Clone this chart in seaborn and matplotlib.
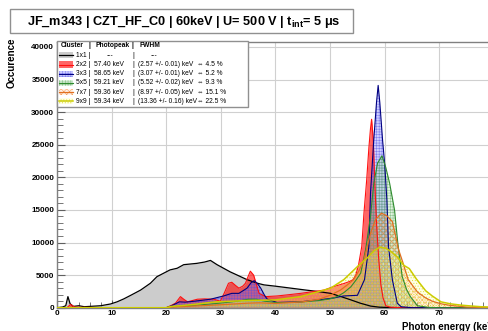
import numpy as np
import pandas as pd
import seaborn as sns
import matplotlib.pyplot as plt
from matplotlib.patches import Rectangle
from matplotlib.lines import Line2D
from matplotlib.ticker import MultipleLocator

plt.rcParams.update({'font.size': 6, 'hatch.linewidth': 0.4,
                     'mathtext.fontset': 'custom',
                     'mathtext.rm': 'Liberation Sans',
                     'mathtext.bf': 'Liberation Sans:bold'})
plt.rcParams['font.family'] = ['Liberation Sans', 'DejaVu Sans']

# spectra (energy in keV, counts)
e_1x1 = [0, 1.0, 1.6, 2.0, 2.4, 3.0, 4.0, 5.0, 6.0, 8.0, 9.8, 11.0, 12.2, 13.5, 15.3, 17.1, 18.3,
         20.7, 22.0, 23.2, 25.6, 27.0, 28.1, 29.3, 31.7, 33.0, 34.8, 36.7, 37.9, 40.0, 42.8, 45.6,
         47.6, 50.1, 52.0, 53.8, 55.5, 57.4, 59.0, 61.0, 65.0, 80.0]
c_1x1 = [0, 100, 300, 1700, 600, 200, 300, 150, 200, 300, 570, 900, 1340, 1900, 2700, 3750, 4760,
         5800, 6050, 6600, 6800, 7000, 7250, 6600, 5500, 5000, 4300, 3750, 3500, 3300, 3000, 2700,
         2500, 2200, 1700, 1200, 700, 250, 80, 20, 0, 0]

e_2x2 = [0, 1.8, 2.5, 3.2, 4.5, 10.0, 20.0, 20.8, 21.7, 22.6, 23.2, 23.9, 24.8, 25.7, 27.0, 28.7,
         29.9, 30.6, 31.4, 32.0, 32.7, 33.3, 34.0, 34.5, 35.0, 35.4, 36.0, 36.5, 37.0, 38.2, 40.3,
         42.5, 44.6, 46.7, 48.9, 50.5, 52.5, 53.5, 54.2, 54.7, 55.2, 55.8, 56.2, 56.7, 57.1, 57.4,
         57.6, 57.9, 58.2, 58.5, 58.9, 59.3, 59.7, 60.2, 61.0, 63.0, 80.0]
c_2x2 = [0, 0, 500, 100, 50, 0, 0, 300, 700, 1700, 1300, 900, 1100, 1300, 1350, 1300,
         1000, 2200, 3750, 3900, 3400, 3000, 3300, 3750, 4800, 5600, 5000, 3600, 2200, 1700, 1800,
         2000, 2200, 2450, 2700, 3200, 3700, 4000, 4300, 5000, 6500, 9400, 14500, 19600, 24500, 27500,
         28900, 25800, 19000, 13000, 7500, 3500, 1500, 300, 80, 0, 0]

e_3x3 = [0, 20.0, 21.0, 22.4, 23.5, 25.2, 28.1, 30.5, 32.0, 33.3, 34.8, 35.5, 36.1, 36.7, 37.3,
         38.0, 38.5, 40.3, 42.5, 44.6, 46.7, 48.9, 50.7, 52.5, 55.0, 56.3, 57.1, 57.4, 58.0, 58.5,
         58.8, 59.1, 59.6, 60.0, 60.4, 60.7, 61.4, 62.3, 63.0, 65.0, 80.0]
c_3x3 = [0, 0, 300, 900, 850, 1000, 1300, 1800, 2200, 2200, 3000, 3800, 4150, 3700, 3000,
         1900, 1300, 800, 850, 900, 1100, 1300, 1500, 1800, 1900, 4300, 9400, 17600, 25800, 31500,
         34100, 31500, 25800, 22000, 16500, 9400, 4300, 700, 150, 0, 0]

e_5x5 = [0, 20.0, 21.0, 25.0, 28.0, 31.0, 33.0, 35.0, 36.5, 38.0, 40.0, 42.0, 45.0, 48.0, 50.0,
         51.3, 52.5, 53.8, 54.8, 55.6, 56.5, 57.4, 58.0, 58.7, 59.5, 60.2, 60.9, 61.8, 62.4, 63.2,
         64.0, 64.7, 66.0, 68.0, 70.0, 80.0]
c_5x5 = [0, 0, 150, 350, 550, 800, 1000, 1300, 1300, 1000, 800, 800, 900, 1100, 1350,
         1700, 2300, 3200, 4300, 5300, 8900, 14000, 19100, 22200, 23300, 21500, 19100, 15000, 9900, 4800,
         2800, 1700, 300, 50, 0, 0]

e_7x7 = [0, 20.0, 21.0, 25.0, 30.0, 35.0, 37.0, 40.0, 45.0, 48.0, 50.0, 51.9, 53.0, 54.3, 55.3,
         56.2, 56.8, 57.4, 58.3, 59.4, 60.4, 61.4, 62.0, 62.5, 63.3, 64.3, 66.0, 67.5, 68.7, 70.3,
         72.0, 75.0, 78.0, 80.0]
c_7x7 = [0, 0, 100, 250, 450, 700, 750, 650, 900, 1300, 1900, 2700, 3400, 4300, 5700,
         7300, 9400, 11400, 13500, 14500, 14100, 13200, 11000, 9000, 7000, 4300, 2400, 1500, 1000, 600,
         350, 100, 30, 0]

e_9x9 = [0, 20.0, 21.0, 25.0, 29.0, 35.0, 40.0, 44.6, 47.6, 48.9, 50.1, 52.5, 55.0, 57.0, 58.0,
         59.1, 60.2, 61.2, 62.3, 63.5, 64.5, 65.8, 67.5, 68.7, 70.3, 72.0, 73.9, 76.0, 77.6, 80.0]
c_9x9 = [0, 0, 200, 500, 900, 1100, 1200, 1700, 2400, 2700, 3000, 4300, 6300, 7800, 8700,
         9300, 9100, 8600, 7800, 6500, 6000, 4400, 2600, 1800, 900, 600, 400, 250, 150, 80]

clusters = ['1x1', '2x2', '3x3', '5x5', '7x7', '9x9']
photopeaks = ['---', '57.40 keV', '58.65 keV', '59.21 keV', '59.36 keV', '59.34 keV']
fwhm = ['---', '(2.57 +/- 0.01) keV', '(3.07 +/- 0.01) keV', '(5.52 +/- 0.02) keV',
        '(8.97 +/- 0.05) keV', '(13.36 +/- 0.16) keV']
ratios = ['', '\u21d4 4.5 %', '\u21d4 5.2 %', '\u21d4 9.3 %', '\u21d4 15.1 %', '\u21d4 22.5 %']

title = 'JF_m343 | CZT_HF_C0 | 60keV | U= 500 V | t$_{\\mathbf{int}}$= 5 \u03bcs'

series = [(e_1x1, c_1x1), (e_2x2, c_2x2), (e_3x3, c_3x3),
          (e_5x5, c_5x5), (e_7x7, c_7x7), (e_9x9, c_9x9)]
styles = [
    dict(face=(0.8, 0.8, 0.8, 1.0), edge=(0.8, 0.8, 0.8, 1.0), hatch=None, line='black', lw=0.9),
    dict(face=(1.0, 0.0, 0.0, 0.6), edge=(1.0, 0.0, 0.0, 0.0), hatch=None, line='#ff1010', lw=0.8),
    dict(face=(0.45, 0.45, 1.0, 0.35), edge=(0.3, 0.3, 0.9, 0.6), hatch='++++++', line='#000080', lw=0.8),
    dict(face=(0.6, 0.85, 0.6, 0.3), edge=(0.35, 0.65, 0.35, 0.6), hatch='++++++', line='#2e8b2e', lw=0.8),
    dict(face=(1.0, 0.6, 0.3, 0.12), edge=(0.95, 0.5, 0.15, 0.7), hatch='xxxxxx', line='#e07020', lw=0.9),
    dict(face=(1.0, 1.0, 0.6, 0.25), edge=(0.85, 0.85, 0.1, 0.8), hatch='......', line='#cccc00', lw=1.1),
]

W, H = 488, 331
fig = plt.figure(figsize=(W / 100, H / 100), dpi=100)
ax = fig.add_axes([57 / W, (H - 307.7) / H, 436.4 / W, 266 / H])

for (e, c), st in zip(series, styles):
    df = pd.DataFrame({'energy': e, 'counts': c})
    ax.fill_between(df.energy, 0, df.counts, facecolor=st['face'], edgecolor=st['edge'],
                    hatch=st['hatch'], linewidth=0, zorder=2)
    sns.lineplot(data=df, x='energy', y='counts', color=st['line'], lw=st['lw'],
                 estimator=None, ax=ax, zorder=3)

ax.set_xlim(0, 79.9)
ax.set_ylim(0, 40800)
ax.set_xlabel('')
ax.set_ylabel('')
ax.xaxis.set_major_locator(MultipleLocator(10))
ax.xaxis.set_minor_locator(MultipleLocator(2))
ax.yaxis.set_major_locator(MultipleLocator(5000))
ax.yaxis.set_minor_locator(MultipleLocator(1000))
ax.grid(True, which='major', color='#d0d0d0', lw=0.8, zorder=0)
ax.set_axisbelow(True)
ax.tick_params(which='both', direction='in', top=False, right=False, pad=2,
               labelsize=5.8, color='#606060')
ax.tick_params(which='major', length=6)
ax.tick_params(which='minor', length=4)
for lab in ax.get_xticklabels() + ax.get_yticklabels():
    lab.set_fontweight('bold')
for sp in ax.spines.values():
    sp.set_color('#808080')
    sp.set_linewidth(1.0)


def fx(px):
    return px / W


def fy(py):
    return 1 - py / H


# title box
fig.add_artist(Rectangle((fx(9.7), fy(33)), fx(353) - fx(9.7), fy(9) - fy(33),
                         transform=fig.transFigure, facecolor='white', edgecolor='#909090', lw=1))
fig.text(fx(184), fy(21.5), title, ha='center', va='center', fontsize=9.2, fontweight='bold')

# axis titles
fig.text(fx(12), fy(38), 'Occurence', rotation=90, ha='center', va='top', fontsize=7, fontweight='bold')
fig.text(fx(497), fy(327.5), 'Photon energy (keV)', ha='right', va='center', fontsize=7,
         fontweight='bold')

# legend box
fig.add_artist(Rectangle((fx(57), fy(107)), fx(248) - fx(57), fy(40.5) - fy(107),
                         transform=fig.transFigure, facecolor='white', edgecolor='#909090', lw=1,
                         zorder=5))
fs = 4.8
hy = 45.3
fig.text(fx(61), fy(hy), 'Cluster', fontsize=fs, fontweight='bold', va='center', zorder=6)
fig.text(fx(88.3), fy(hy), '|', fontsize=fs, fontweight='bold', va='center', zorder=6)
fig.text(fx(95), fy(hy), 'Photopeak', fontsize=fs, fontweight='bold', va='center', zorder=6)
fig.text(fx(132), fy(hy), '|', fontsize=fs, fontweight='bold', va='center', zorder=6)
fig.text(fx(139), fy(hy), 'FWHM', fontsize=fs, fontweight='bold', va='center', zorder=6)

for i, st in enumerate(styles):
    ry = 55.3 + 9.2 * i
    fig.add_artist(Rectangle((fx(59), fy(ry + 3)), fx(72.5) - fx(59), fy(ry - 3) - fy(ry + 3),
                             transform=fig.transFigure, facecolor=st['face'], edgecolor=st['edge'],
                             hatch=st['hatch'], lw=0, zorder=6))
    fig.add_artist(Line2D([fx(59), fx(72.5)], [fy(ry), fy(ry)], transform=fig.transFigure,
                          color=st['line'], lw=st['lw'], zorder=7))
    fig.text(fx(75.7), fy(ry), clusters[i] + ' |', fontsize=fs, va='center', zorder=6)
    if photopeaks[i] == '---':
        fig.text(fx(110), fy(ry), photopeaks[i], fontsize=fs, va='center', ha='center', zorder=6)
        fig.text(fx(154), fy(ry), fwhm[i], fontsize=fs, va='center', ha='center', zorder=6)
    else:
        fig.text(fx(94.3), fy(ry), photopeaks[i], fontsize=fs, va='center', zorder=6)
        fig.text(fx(138.3), fy(ry), fwhm[i], fontsize=fs, va='center', zorder=6)
    fig.text(fx(132.3), fy(ry), '|', fontsize=fs, va='center', zorder=6)
    fig.text(fx(197), fy(ry), ratios[i], fontsize=fs, va='center', zorder=6)

fig.savefig('out.png', dpi=100)
